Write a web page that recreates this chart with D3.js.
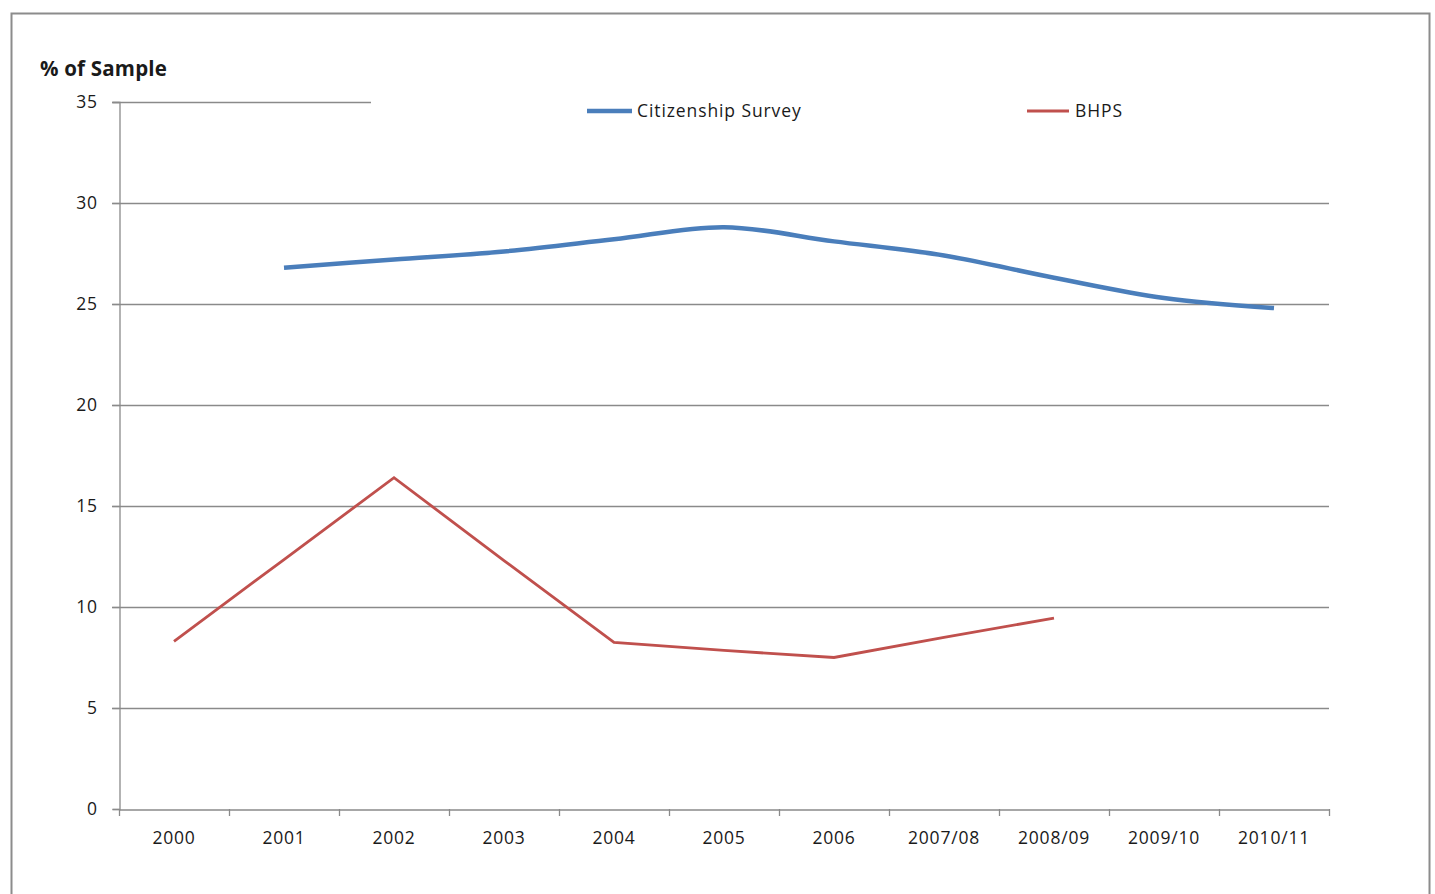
<!DOCTYPE html>
<html>
<head>
<meta charset="utf-8">
<script src="https://cdn.jsdelivr.net/npm/d3@7"></script>
<style>
  body { margin: 0; background: #fff; }
  svg { display: block; font-family: "Open Sans", "DejaVu Sans", sans-serif; }
</style>
</head>
<body>
<div id="chart"></div>
<script>
const categories = ['2000', '2001', '2002', '2003', '2004', '2005', '2006', '2007/08', '2008/09', '2009/10', '2010/11'];
const citizenship = [null, 26.8, 27.2, 27.6, 28.2, 28.8, 28.1, 27.4, 26.3, 25.3, 24.8];
const bhps = [8.3, 12.35, 16.4, 12.3, 8.25, 7.85, 7.5, 8.5, 9.45, null, null];
const yTicks = [0, 5, 10, 15, 20, 25, 30, 35];

const width = 1435;
const height = 894;
const margin = {
  top: 102, right: 106, bottom: 85, left: 119,
};
const font = '"Open Sans", "DejaVu Sans", sans-serif';

const svg = d3.select('#chart').append('svg')
  .attr('width', width)
  .attr('height', height);

// outer chart border
svg.append('rect')
  .attr('x', 11.5)
  .attr('y', 13.5)
  .attr('width', 1418)
  .attr('height', 900)
  .attr('fill', '#fff')
  .attr('stroke', '#8c8c8c')
  .attr('stroke-width', 2);

const x = d3.scaleBand()
  .domain(categories)
  .range([margin.left, width - margin.right]);

const y = d3.scaleLinear()
  .domain([0, 35])
  .range([height - margin.bottom, margin.top]);

// gridlines
svg.append('g')
  .selectAll('line')
  .data(yTicks.filter((t) => t > 0))
  .enter()
  .append('line')
  .attr('x1', margin.left - 7)
  .attr('x2', width - margin.right)
  .attr('y1', (d) => Math.round(y(d)) + 0.5)
  .attr('y2', (d) => Math.round(y(d)) + 0.5)
  .attr('stroke', '#8a8a8a')
  .attr('stroke-width', 1.3);

// y axis
const yAxis = svg.append('g')
  .attr('transform', `translate(${margin.left + 0.5},0)`)
  .call(d3.axisLeft(y).tickValues(yTicks).tickSize(7).tickPadding(15))
  .attr('font-family', font);
yAxis.select('.domain').attr('stroke', '#8a8a8a').attr('stroke-width', 1.3);
yAxis.selectAll('.tick line').attr('stroke', '#8a8a8a').attr('stroke-width', 1.3);
yAxis.selectAll('.tick text')
  .attr('font-size', 17.5)
  .attr('letter-spacing', 0.6)
  .attr('fill', '#1a1a1a');

// x axis
const xAxis = svg.append('g')
  .attr('transform', `translate(0,${Math.round(y(0)) + 0.5})`)
  .call(d3.axisBottom(x).tickSize(0).tickPadding(22))
  .attr('font-family', font);
xAxis.select('.domain').attr('stroke', '#8a8a8a').attr('stroke-width', 1.3);
xAxis.selectAll('.tick text')
  .attr('font-size', 17.5)
  .attr('letter-spacing', 0.8)
  .attr('fill', '#1a1a1a');

// x tick marks between categories
const boundaries = categories.map((c) => x(c)).concat([x(categories[categories.length - 1]) + x.bandwidth()]);
svg.append('g')
  .selectAll('line')
  .data(boundaries)
  .enter()
  .append('line')
  .attr('x1', (d) => Math.round(d) + 0.5)
  .attr('x2', (d) => Math.round(d) + 0.5)
  .attr('y1', Math.round(y(0)))
  .attr('y2', Math.round(y(0)) + 7)
  .attr('stroke', '#8a8a8a')
  .attr('stroke-width', 1.3);

// title
svg.append('text')
  .attr('x', 40)
  .attr('y', 76)
  .attr('font-size', 20.5)
  .attr('font-weight', 'bold')
  .attr('letter-spacing', 0.2)
  .attr('fill', '#1a1a1a')
  .text('% of Sample');

// lines
const cx = (i) => x(categories[i]) + x.bandwidth() / 2;

const blueLine = d3.line()
  .defined((d) => d !== null)
  .x((d, i) => cx(i))
  .y((d) => y(d))
  .curve(d3.curveCatmullRom.alpha(0.5));

const redLine = d3.line()
  .defined((d) => d !== null)
  .x((d, i) => cx(i))
  .y((d) => y(d));

svg.append('path')
  .datum(citizenship)
  .attr('d', blueLine)
  .attr('fill', 'none')
  .attr('stroke', '#4a7ebb')
  .attr('stroke-width', 4.5);

svg.append('path')
  .datum(bhps)
  .attr('d', redLine)
  .attr('fill', 'none')
  .attr('stroke', '#c0504d')
  .attr('stroke-width', 2.8);

// legend (white box covering the top gridline, as in the original)
svg.append('rect')
  .attr('x', 371)
  .attr('y', 92)
  .attr('width', 960)
  .attr('height', 36)
  .attr('fill', '#fff');

const legendItems = [
  { name: 'Citizenship Survey', color: '#4a7ebb', w: 4.5, x0: 587, x1: 632, tx: 637 },
  { name: 'BHPS', color: '#c0504d', w: 2.8, x0: 1027, x1: 1069, tx: 1075 },
];
const legend = svg.append('g');
legend.selectAll('line')
  .data(legendItems)
  .enter()
  .append('line')
  .attr('x1', (d) => d.x0)
  .attr('x2', (d) => d.x1)
  .attr('y1', 111)
  .attr('y2', 111)
  .attr('stroke', (d) => d.color)
  .attr('stroke-width', (d) => d.w);
legend.selectAll('text')
  .data(legendItems)
  .enter()
  .append('text')
  .attr('x', (d) => d.tx)
  .attr('y', 117)
  .attr('font-size', 17.5)
  .attr('letter-spacing', 0.9)
  .attr('fill', '#1a1a1a')
  .text((d) => d.name);
</script>
</body>
</html>
